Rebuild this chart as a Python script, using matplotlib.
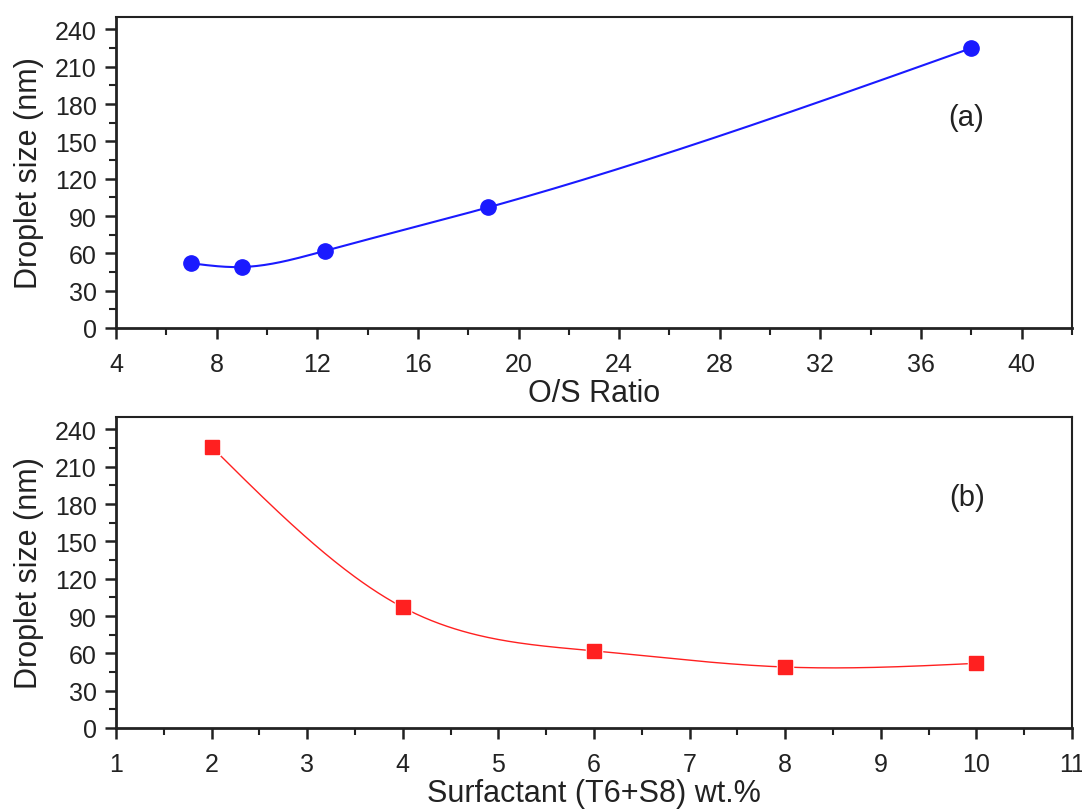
import numpy as np
import matplotlib
matplotlib.use("Agg")
import matplotlib.pyplot as plt
from matplotlib.ticker import MultipleLocator

plt.rcParams['font.family'] = ['Liberation Sans', 'DejaVu Sans']

# Data
os_ratio = [7.0, 9.0, 12.3, 18.8, 38.0]
size_a = [52, 49, 62, 97, 225]
surfactant = [2, 4, 6, 8, 10]
size_b = [226, 97, 62, 49, 52]


def natural_spline(x, y, n=300):
    x = np.asarray(x, float); y = np.asarray(y, float)
    m = len(x); h = np.diff(x)
    A = np.zeros((m, m)); r = np.zeros(m)
    A[0, 0] = A[-1, -1] = 1
    for i in range(1, m - 1):
        A[i, i - 1] = h[i - 1]; A[i, i] = 2 * (h[i - 1] + h[i]); A[i, i + 1] = h[i]
        r[i] = 3 * ((y[i + 1] - y[i]) / h[i] - (y[i] - y[i - 1]) / h[i - 1])
    c = np.linalg.solve(A, r)
    b = (np.diff(y) / h) - h * (2 * c[:-1] + c[1:]) / 3
    d = np.diff(c) / (3 * h)
    xs = np.linspace(x[0], x[-1], n)
    idx = np.clip(np.searchsorted(x, xs) - 1, 0, m - 2)
    dx = xs - x[idx]
    ys = y[idx] + b[idx] * dx + c[idx] * dx ** 2 + d[idx] * dx ** 3
    return xs, ys


fig = plt.figure(figsize=(10.82, 8.12), dpi=100)
ax1 = fig.add_axes([116 / 1082, 1 - 329 / 812, 956 / 1082, 311 / 812])
ax2 = fig.add_axes([116 / 1082, 1 - 729 / 812, 956 / 1082, 311 / 812])

tc = '#222222'
for ax in (ax1, ax2):
    ax.set_ylim(0, 250)
    ax.yaxis.set_major_locator(MultipleLocator(30))
    ax.yaxis.set_minor_locator(MultipleLocator(15))
    for s in ('left', 'bottom'):
        ax.spines[s].set_linewidth(2.0)
    for s in ('top', 'right'):
        ax.spines[s].set_linewidth(1.5)
    for s in ax.spines.values():
        s.set_color(tc)
    ax.tick_params(which='major', direction='out', length=8, width=1.8, labelsize=18, colors=tc)
    ax.tick_params(which='minor', direction='out', length=5, width=1.5, colors=tc)
    ax.tick_params(axis='y', which='major', pad=6)
    ax.tick_params(axis='x', which='major', pad=9)
    ax.set_ylabel('Droplet size (nm)', fontsize=22, color=tc, labelpad=8)

# Panel a
ax1.set_xlim(4, 42)
ax1.xaxis.set_major_locator(MultipleLocator(4))
ax1.xaxis.set_minor_locator(MultipleLocator(2))
xs, ys = natural_spline(os_ratio, size_a)
ax1.plot(xs, ys, color='#1a1aff', lw=1.5)
ax1.plot(os_ratio, size_a, 'o', color='#1a1aff', ms=11)
ax1.set_xlabel('O/S Ratio', fontsize=22, color=tc, labelpad=2)
ax1.text(37.8, 170, '(a)', fontsize=21, color=tc, ha='center', va='center')

# Panel b
ax2.set_xlim(1, 11)
ax2.xaxis.set_major_locator(MultipleLocator(1))
ax2.xaxis.set_minor_locator(MultipleLocator(0.5))
xs, ys = natural_spline(surfactant, size_b)
ax2.plot(xs, ys, color='#ff2020', lw=1.0)
ax2.plot(surfactant, size_b, 's', color='#ff2020', ms=10, mec='white', mew=2.5)
ax2.plot(surfactant, size_b, 's', color='#ff2020', ms=10)
ax2.set_xlabel('Surfactant (T6+S8) wt.%', fontsize=22, color=tc, labelpad=2)
ax2.text(9.9, 186, '(b)', fontsize=21, color=tc, ha='center', va='center')

fig.savefig('out.png', dpi=100)
